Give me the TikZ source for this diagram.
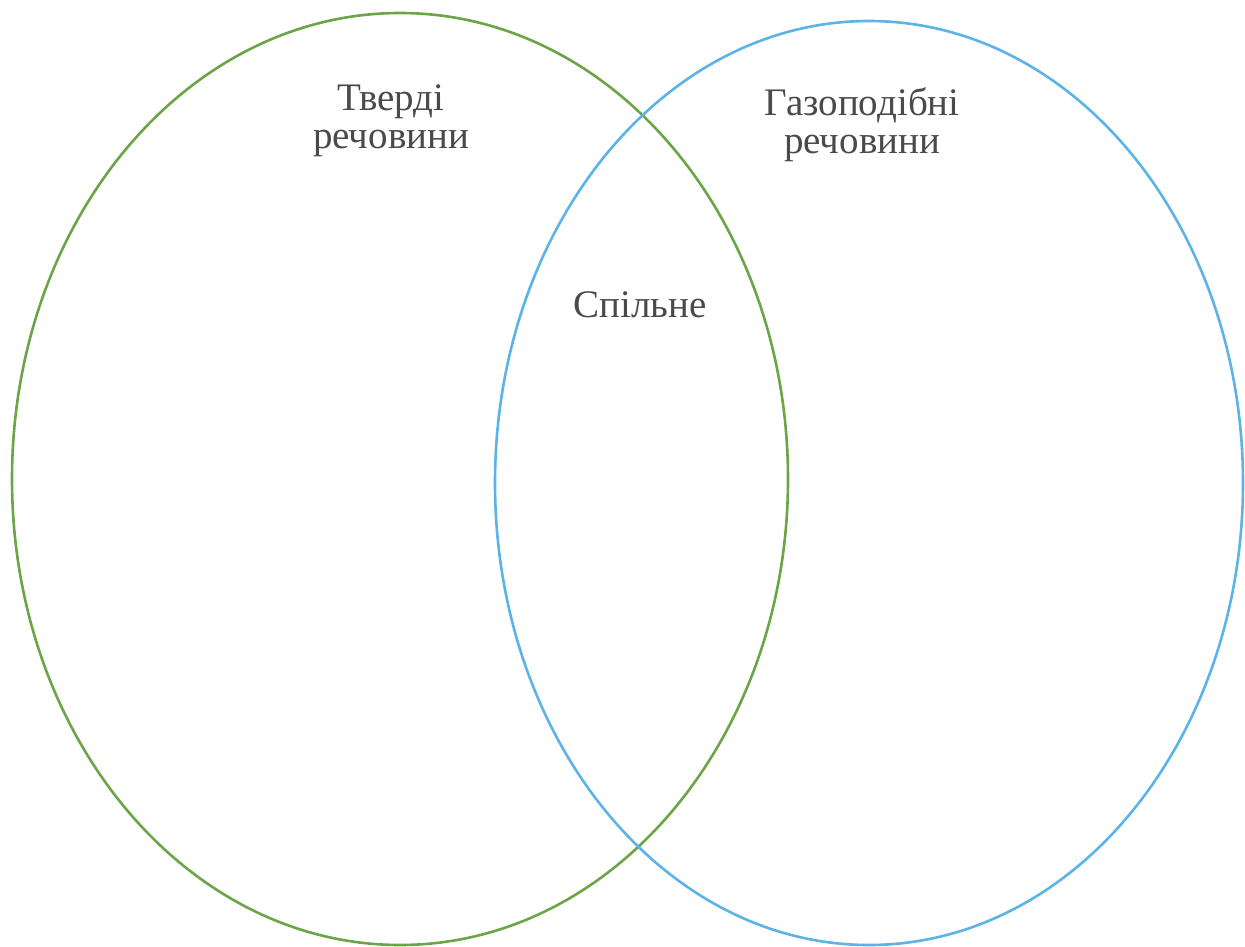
\documentclass[tikz,border=0pt]{standalone}
\usepackage{fontspec}
\setmainfont{Liberation Serif}
\definecolor{setgreen}{HTML}{6BA547}
\definecolor{setblue}{HTML}{5CB3E8}
\definecolor{labelgray}{HTML}{4A4A4A}
\begin{document}
\begin{tikzpicture}[x=1pt,y=-1pt,
  setline/.style={line width=2.6pt},
  lbl/.style={text=labelgray,align=center,inner sep=0pt,font=\fontsize{39}{38}\selectfont}]
\useasboundingbox (0,0) rectangle (1245,947);
\fill[white] (0,0) rectangle (1245,947);
\draw[setline,setgreen] (400,479) ellipse [x radius=388, y radius=466];
\draw[setline,setblue] (869,483) ellipse [x radius=374, y radius=462];
\node[lbl] (solid) at (391,121) {Тверді\\речовини};
\node[lbl] (gas) at (862,125) {Газоподібні\\речовини};
\node[lbl] (common) at (640,305) {Спільне};
\end{tikzpicture}
\end{document}
